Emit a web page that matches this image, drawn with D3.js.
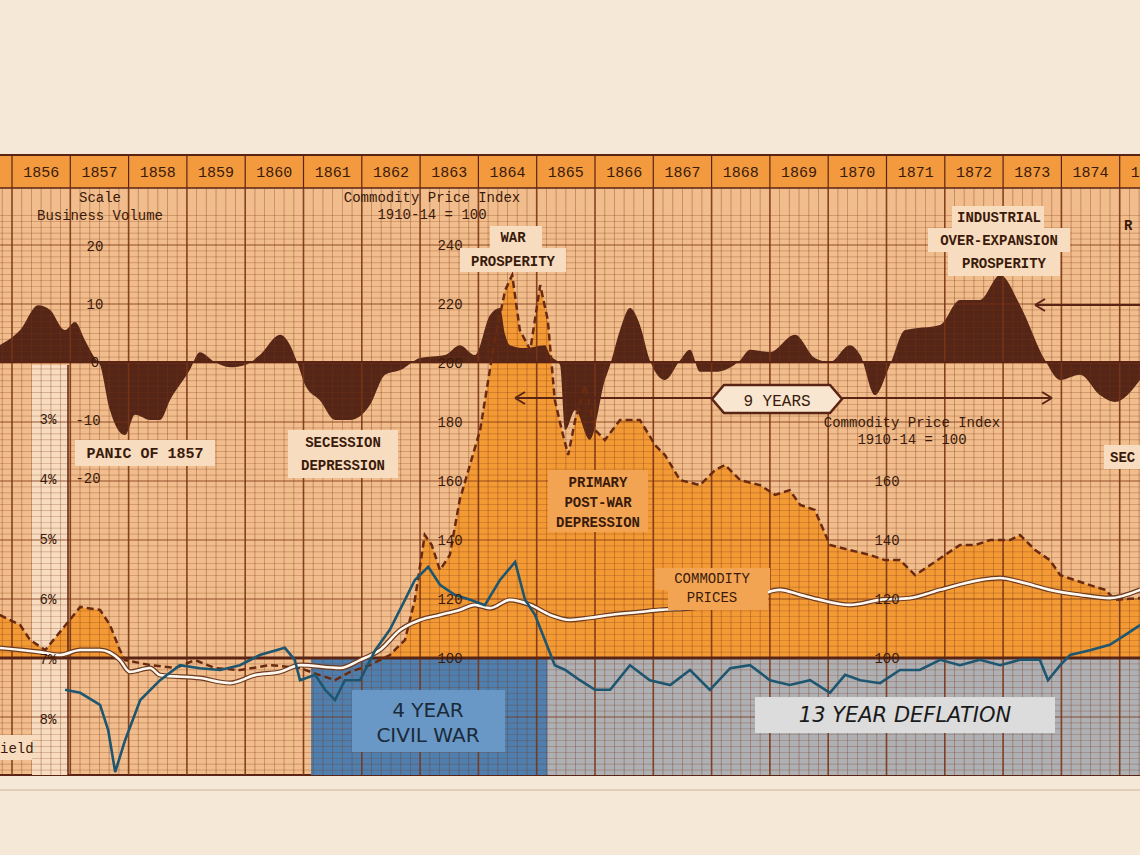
<!DOCTYPE html>
<html><head><meta charset="utf-8">
<script src="https://cdn.jsdelivr.net/npm/d3@7"></script>
<style>body{margin:0;background:#f6e8d6;}svg{display:block}</style>
</head><body><svg id="c" width="1140" height="855"></svg>
<script>
const yearLabels = [1856,1857,1858,1859,1860,1861,1862,1863,1864,1865,1866,1867,1868,1869,1870,1871,1872,1873,1874,1875];
const busYears = [1855.79,1856.14,1856.45,1856.65,1856.91,1857.08,1857.25,1857.42,1857.51,1857.68,1857.94,1858.11,1858.37,1858.54,1858.71,1859.05,1859.22,1859.48,1859.74,1860.0,1860.25,1860.6,1860.77,1860.89,1861.03,1861.28,1861.54,1861.8,1862.14,1862.4,1862.66,1863.0,1863.43,1863.68,1863.94,1864.2,1864.37,1864.46,1864.54,1864.8,1865.14,1865.23,1865.4,1865.49,1865.66,1865.91,1866.17,1866.26,1866.43,1866.6,1866.77,1866.94,1867.2,1867.46,1867.63,1867.8,1868.06,1868.49,1868.66,1869.0,1869.43,1869.77,1870.03,1870.37,1870.55,1870.8,1871.06,1871.32,1871.92,1872.26,1872.6,1872.95,1873.29,1873.72,1873.98,1874.32,1874.66,1874.92,1875.35];
const busValues = [2.9,5.5,9.8,9,5.5,6.9,3.8,0.7,-0.5,-8.3,-12.6,-9.1,-10,-10,-6.6,-1.4,1.7,0,-0.9,-0.5,1.2,4.7,2.9,0,-4,-6.6,-10,-10,-7.4,-2.2,-1.4,0.7,1.2,2.9,1.2,8.1,9.3,4.7,2.9,2.4,2.9,1.2,-0.5,-11.7,-8.3,-13.4,-3.1,-0.5,5.5,9.3,6.4,0.3,-3.1,0.3,2.1,-1.7,-1.7,0.3,2.1,1.7,4.7,0.7,0,2.9,1.2,-5.7,-0.5,5.5,6.4,10.7,10.7,15,9.8,0.3,-3.1,-2.2,-5.7,-6.9,-3.1];
const comYears = [1855.79,1856.14,1856.31,1856.57,1856.99,1857.17,1857.51,1857.68,1857.85,1857.94,1858.37,1858.8,1859.14,1859.48,1859.91,1860.43,1860.94,1861.28,1861.54,1861.8,1862.14,1862.48,1862.74,1862.91,1863.08,1863.2,1863.34,1863.51,1863.68,1864.03,1864.28,1864.46,1864.58,1864.71,1864.89,1865.06,1865.19,1865.31,1865.43,1865.54,1865.66,1865.83,1866.0,1866.17,1866.43,1866.77,1867.03,1867.2,1867.46,1867.8,1868.06,1868.23,1868.49,1868.83,1869.09,1869.34,1869.52,1869.77,1870.03,1870.37,1870.72,1870.97,1871.23,1871.49,1871.75,1872.0,1872.26,1872.52,1872.78,1873.12,1873.29,1873.55,1873.8,1873.98,1874.23,1874.49,1874.75,1874.92,1875.35];
const comValues = [114.6,111.2,106.1,102.7,112.9,117.3,116.3,111.2,102.7,99.3,97.6,96.6,99.3,96.6,95.9,97.6,96.6,94.2,92.5,95.3,97.6,101,106.1,119.7,141.7,138.3,129.8,134.9,153.6,177.3,207.8,224.7,229.8,211.2,204.4,226.4,214.6,187.5,177.3,168.8,180.7,192.5,177.3,173.9,180.7,180.7,172.2,168.8,160.3,158.6,163.7,165.4,160.3,158.6,155.3,156.9,151.9,150.2,138.3,136.6,134.9,133.2,133.2,128.1,131.5,134.9,138.3,138.3,140,140,141.7,136.6,133.2,128.1,126.4,124.7,123.1,119.7,120.3];
const genYears = [1855.79,1856.48,1856.82,1857.17,1857.51,1857.85,1858.02,1858.37,1858.54,1859.22,1859.74,1860.17,1860.6,1860.94,1861.63,1861.97,1862.31,1862.66,1863.0,1863.34,1863.68,1863.94,1864.2,1864.54,1864.89,1865.23,1865.57,1865.91,1866.26,1866.77,1867.11,1867.63,1868.14,1868.66,1869.17,1869.52,1869.86,1870.37,1870.89,1871.4,1871.92,1872.6,1872.95,1873.29,1873.8,1874.32,1874.83,1875.35];
const genValues = [103.4,102,101,102.7,102.7,99.3,95.3,96.6,94.2,93.2,91.5,94.2,95.3,97.6,96.6,99.3,102.7,109.5,112.9,114.6,116.3,118,116.9,119.7,118,114.6,112.9,113.6,114.6,115.6,116.3,116.9,118,120.3,123.1,121.4,119.7,118,119.7,120.3,123.1,126.4,127.1,125.8,123.1,121.4,120.3,123.1];
const bondYears = [1856.91,1857.17,1857.51,1857.65,1857.77,1857.94,1858.2,1858.54,1858.88,1859.22,1859.57,1859.91,1860.25,1860.68,1860.85,1860.94,1861.2,1861.37,1861.54,1861.71,1861.97,1862.23,1862.48,1862.74,1862.91,1863.14,1863.34,1863.6,1863.86,1864.11,1864.37,1864.63,1864.8,1864.97,1865.14,1865.31,1865.49,1865.74,1866.0,1866.26,1866.6,1866.94,1867.29,1867.63,1867.97,1868.32,1868.66,1869.0,1869.34,1869.69,1870.03,1870.29,1870.55,1870.89,1871.23,1871.57,1871.92,1872.26,1872.6,1872.95,1873.29,1873.63,1873.77,1873.98,1874.15,1874.49,1874.83,1875.09,1875.35];
const bondValues = [7.53,7.58,7.78,8.2,8.9,8.37,7.7,7.37,7.12,7.17,7.2,7.12,6.95,6.83,7.03,7.37,7.28,7.53,7.7,7.37,7.37,6.87,6.53,6.03,5.7,5.48,5.78,5.95,6.03,6.12,5.7,5.4,6.03,6.28,6.7,7.12,7.2,7.37,7.53,7.53,7.12,7.37,7.45,7.2,7.53,7.17,7.12,7.37,7.45,7.37,7.58,7.28,7.37,7.42,7.2,7.2,7.03,7.12,7.03,7.12,7.03,7.03,7.37,7.12,6.95,6.87,6.78,6.62,6.45];
const busTicks = [20,10,0,-10,-20];
const comTicksLeft = [240,220,200,180,160,140,120,100];
const comTicksRight = [160,140,120,100];
const yieldTicks = [3,4,5,6,7,8];

const svg = d3.select('#c');
const T = 155, H0 = 188, B = 775;
const x = d3.scaleLinear().domain([1856, 1857]).range([12, 70.3]);
const yB = d3.scaleLinear().domain([0, 10]).range([362, 304]);
const yC = d3.scaleLinear().domain([100, 200]).range([658, 363]);
const yY = d3.scaleLinear().domain([7, 8]).range([658, 718]);
const mono = "'Liberation Mono','DejaVu Sans Mono',monospace";
const brown = '#5a2415';

svg.append('rect').attr('x',0).attr('y',T).attr('width',1140).attr('height',B-T).attr('fill','#f1bd8c');
svg.append('rect').attr('x',0).attr('y',T).attr('width',1140).attr('height',H0-T).attr('fill','#f39a3e');
svg.append('line').attr('x1',0).attr('x2',1140).attr('y1',T).attr('y2',T).attr('stroke',brown).attr('stroke-width',2);
svg.append('line').attr('x1',0).attr('x2',1140).attr('y1',H0).attr('y2',H0).attr('stroke',brown).attr('stroke-width',1.5);
svg.append('line').attr('x1',0).attr('x2',1140).attr('y1',B).attr('y2',B).attr('stroke',brown).attr('stroke-width',2);
svg.append('line').attr('x1',0).attr('x2',1140).attr('y1',790).attr('y2',790).attr('stroke','#cdb49a').attr('stroke-width',1);

svg.append('rect').attr('x',x(1861.13)).attr('y',yC(100)).attr('width',x(1865.19)-x(1861.13)).attr('height',B-yC(100)).attr('fill','#4f7fae');
svg.append('rect').attr('x',x(1865.19)).attr('y',yC(100)).attr('width',1140-x(1865.19)).attr('height',B-yC(100)).attr('fill','#aeb0b4');
svg.append('rect').attr('x',32).attr('y',365).attr('width',36).attr('height',B-365).attr('fill','#f8dcc0');

const cd = comYears.map((t,i)=>({t,v:comValues[i]}));
svg.append('path').datum(cd).attr('fill','#f39a35')
  .attr('d', d3.area().x(d=>x(d.t)).y0(yC(100)).y1(d=>yC(Math.max(100,d.v))));
const bd = busYears.map((t,i)=>({t,v:busValues[i]}));
svg.append('path').datum(bd).attr('fill','#552617')
  .attr('d', d3.area().x(d=>x(d.t)).y0(yB(0)).y1(d=>yB(d.v)).curve(d3.curveMonotoneX));

const g = svg.append('g').attr('stroke','#7a3515');
for (let t=1855.5; t<=1876; t+=1/6) {
  const maj = Math.abs(t-Math.round(t))<1e-6;
  g.append('line').attr('x1',x(t)).attr('x2',x(t)).attr('y1',H0).attr('y2',B)
   .attr('stroke-width',maj?1.6:0.7).attr('opacity',maj?0.9:0.5);
}
for (let v=60; v<=250; v+=2) {
  const maj = v%20===0;
  const yy = yC(v); if (yy<H0||yy>B) continue;
  g.append('line').attr('x1',0).attr('x2',1140).attr('y1',yy).attr('y2',yy)
   .attr('stroke-width',maj?1.2:0.6).attr('opacity',maj?0.8:0.45);
}
svg.append('line').attr('x1',0).attr('x2',1140).attr('y1',yB(0)).attr('y2',yB(0)).attr('stroke',brown).attr('stroke-width',2);
svg.append('line').attr('x1',0).attr('x2',1140).attr('y1',yC(100)).attr('y2',yC(100)).attr('stroke',brown).attr('stroke-width',3);
svg.append('line').attr('x1',68).attr('x2',68).attr('y1',365).attr('y2',B).attr('stroke',brown).attr('stroke-width',1.5);

yearLabels.forEach(yv=>{
  svg.append('text').attr('x',x(yv+0.5)).attr('y',177).attr('text-anchor','middle')
    .attr('font-family',mono).attr('font-size',15).attr('fill','#3a1a0a').text(yv);
});
svg.selectAll('.yd').data(yearLabels).enter().append('line')
  .attr('x1',d=>x(d)).attr('x2',d=>x(d)).attr('y1',T).attr('y2',H0).attr('stroke',brown).attr('stroke-width',1.2);

const line = d3.line().x(d=>x(d.t)).y(d=>yC(d.v));
svg.append('path').datum(cd).attr('fill','none').attr('stroke','#6a2a10').attr('stroke-width',2.5)
  .attr('stroke-dasharray','7,4').attr('d',line);
const gd = genYears.map((t,i)=>({t,v:genValues[i]}));
const sline = d3.line().x(d=>x(d.t)).y(d=>yC(d.v)).curve(d3.curveMonotoneX);
svg.append('path').datum(gd).attr('fill','none').attr('stroke','#6b3a20').attr('stroke-width',5).attr('d',sline);
svg.append('path').datum(gd).attr('fill','none').attr('stroke','#fff8ee').attr('stroke-width',2.6).attr('d',sline);
const yd = bondYears.map((t,i)=>({t,v:bondValues[i]}));
svg.append('path').datum(yd).attr('fill','none').attr('stroke','#1e5670').attr('stroke-width',2.6)
  .attr('d', d3.line().x(d=>x(d.t)).y(d=>yY(d.v)));

function txt(xx,yy,s,opt={}) {
  return svg.append('text').attr('x',xx).attr('y',yy).attr('text-anchor',opt.anchor||'middle')
    .attr('font-family',opt.font||mono).attr('font-size',opt.size||14).attr('font-weight',opt.weight||'normal')
    .attr('font-style',opt.style||'normal').attr('fill',opt.fill||'#3a1a0a').text(s);
}
function box(x0,y0,w,h,fill){svg.append('rect').attr('x',x0).attr('y',y0).attr('width',w).attr('height',h).attr('fill',fill);}

txt(100,202,'Scale'); txt(100,220,'Business Volume');
busTicks.forEach(v=>txt(v<0?88:95,yB(v)+5,v===0?'0':(v<0?'-'+Math.abs(v):v)));
txt(432,202,'Commodity Price Index'); txt(432,219,'1910-14 = 100');
comTicksLeft.forEach(v=>txt(450,yC(v)+5,v));
txt(912,427,'Commodity Price Index'); txt(912,444,'1910-14 = 100');
comTicksRight.forEach(v=>txt(887,yC(v)+5,v));
yieldTicks.forEach(v=>txt(48,yY(v)+6,v+'%'));
box(0,735,32,25,'#f8dcc0'); txt(0,753,'ield',{anchor:'start'});

const cream='#f7dcbf', orng='#f3a453';
box(75,440,140,26,cream); txt(145,458,'PANIC OF 1857',{weight:'bold',size:15});
box(288,430,110,48,cream); txt(343,447,'SECESSION',{weight:'bold'}); txt(343,470,'DEPRESSION',{weight:'bold'});
box(490,226,52,22,cream); box(460,248,106,24,cream);
txt(513,242,'WAR',{weight:'bold'}); txt(513,266,'PROSPERITY',{weight:'bold'});
box(548,470,100,62,orng);
txt(598,487,'PRIMARY',{weight:'bold'}); txt(598,507,'POST-WAR',{weight:'bold'}); txt(598,527,'DEPRESSION',{weight:'bold'});
box(952,206,92,22,cream); box(928,228,142,24,cream); box(948,252,112,24,cream);
txt(999,222,'INDUSTRIAL',{weight:'bold'}); txt(999,245,'OVER-EXPANSION',{weight:'bold'}); txt(1004,268,'PROSPERITY',{weight:'bold'});
box(655,568,115,22,orng); box(668,590,100,20,orng);
txt(712,583,'COMMODITY'); txt(712,602,'PRICES');
box(1104,445,36,24,cream); txt(1110,462,'SEC',{anchor:'start',weight:'bold'});
txt(1124,230,'R',{anchor:'start',weight:'bold'});

svg.append('line').attr('x1',517).attr('x2',1050).attr('y1',398).attr('y2',398).attr('stroke',brown).attr('stroke-width',2);
svg.append('path').attr('d','M515,398 l10,-6 M515,398 l10,6 M1052,398 l-10,-6 M1052,398 l-10,6').attr('stroke',brown).attr('stroke-width',2).attr('fill','none');
svg.append('path').attr('d','M712,399 L724,385 L830,385 L842,399 L830,413 L724,413 Z').attr('fill','#f8e6d0').attr('stroke',brown).attr('stroke-width',2.5);
txt(777,406,'9 YEARS',{size:16});
svg.append('line').attr('x1',1037).attr('x2',1140).attr('y1',305).attr('y2',305).attr('stroke',brown).attr('stroke-width',2);
svg.append('path').attr('d','M1035,305 l10,-6 M1035,305 l10,6').attr('stroke',brown).attr('stroke-width',2).attr('fill','none');

box(352,690,153,62,'#6a98c6');
txt(428,717,'4 YEAR',{font:"'DejaVu Sans',sans-serif",size:20,fill:'#1a2a3a'});
txt(428,742,'CIVIL WAR',{font:"'DejaVu Sans',sans-serif",size:20,fill:'#1a2a3a'});
box(755,697,300,36,'#dcdcdc');
txt(905,722,'13 YEAR DEFLATION',{font:"'DejaVu Sans',sans-serif",size:21,style:'italic',fill:'#1a1a1a'});
</script></body></html>
